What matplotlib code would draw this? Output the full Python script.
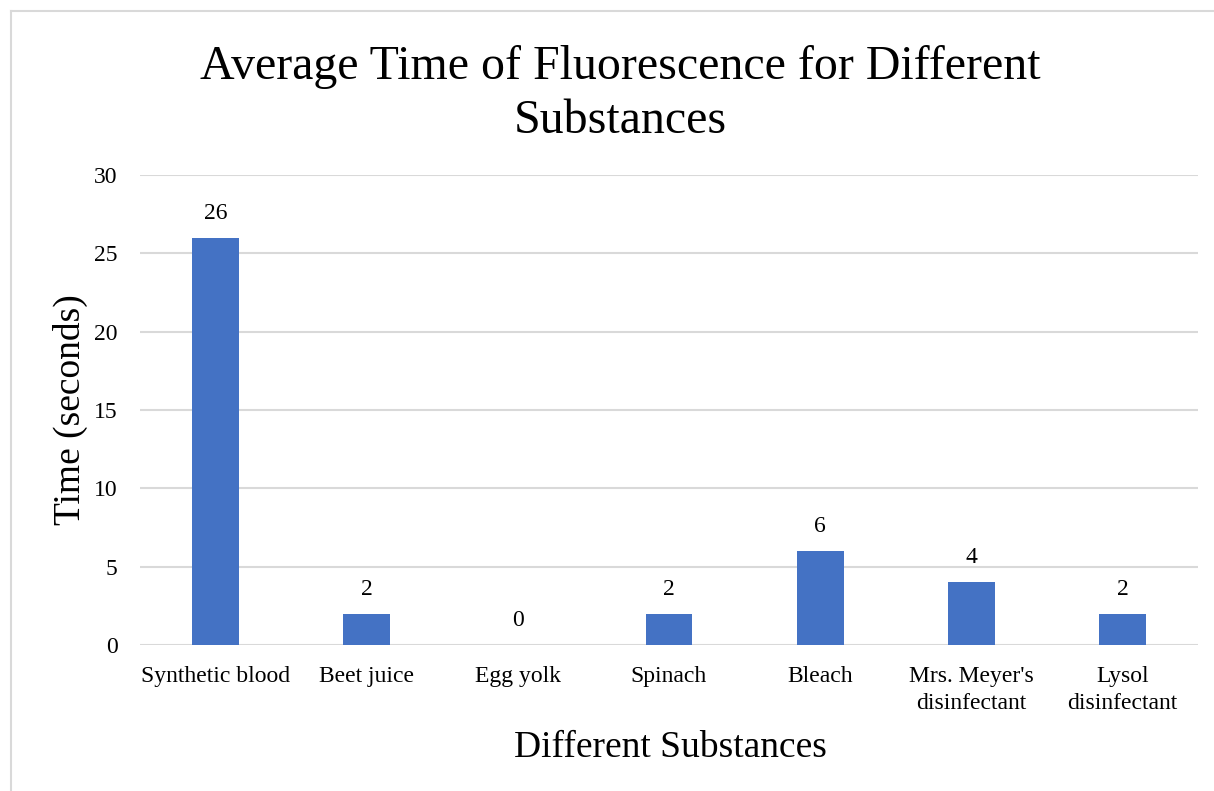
import matplotlib.pyplot as plt
from matplotlib.lines import Line2D

substances = ["Synthetic blood", "Beet juice", "Egg yolk", "Spinach", "Bleach",
              "Mrs. Meyer's\ndisinfectant", "Lysol\ndisinfectant"]
avg_time = [26, 2, 0, 2, 6, 4, 2]
y_ticks = [0, 5, 10, 15, 20, 25, 30]

plt.rcParams["font.family"] = ["Liberation Serif", "DejaVu Serif"]

fig = plt.figure(figsize=(12.14, 7.91), dpi=100)
ax = fig.add_axes([140 / 1214, 1 - 645 / 791, (1198 - 140) / 1214, (645 - 175) / 791])

x = list(range(len(substances)))
bars = ax.bar(x, avg_time, width=0.31, color="#4472c4", zorder=3)

for xi, v in zip(x, avg_time):
    ax.annotate(str(v), (xi, v), xytext=(0, 10), textcoords="offset points",
                ha="center", va="bottom", fontsize=17, color="#000000")

ax.set_xlim(-0.5, len(substances) - 0.5)
ax.set_ylim(0, 30)
ax.set_yticks(y_ticks)
ax.set_xticks(x)
ax.set_xticklabels(substances, fontsize=17, linespacing=1.4)
ax.tick_params(axis="y", labelsize=17, length=0, pad=16)
ax.tick_params(axis="x", length=0, pad=15)
ax.grid(axis="y", color="#d9d9d9", linewidth=1.5, zorder=0)
for s in ax.spines.values():
    s.set_visible(False)

fig.text(620 / 1214, 1 - 94 / 791, "Average Time of Fluorescence for Different\nSubstances",
         ha="center", va="center", fontsize=34.5, linespacing=1.32)
fig.text(670 / 1214, 1 - 748 / 791, "Different Substances", ha="center", va="center", fontsize=27)
fig.text(70 / 1214, 1 - 410 / 791, "Time (seconds)", ha="center", va="center",
         fontsize=27, rotation=90)

# chart area border (left and top only visible)
fig.add_artist(Line2D([11 / 1214, 11 / 1214], [0, 1 - 11 / 791], transform=fig.transFigure,
                      color="#d9d9d9", linewidth=1.5))
fig.add_artist(Line2D([11 / 1214, 1], [1 - 11 / 791, 1 - 11 / 791], transform=fig.transFigure,
                      color="#d9d9d9", linewidth=1.5))

fig.savefig("out.png", dpi=100)
